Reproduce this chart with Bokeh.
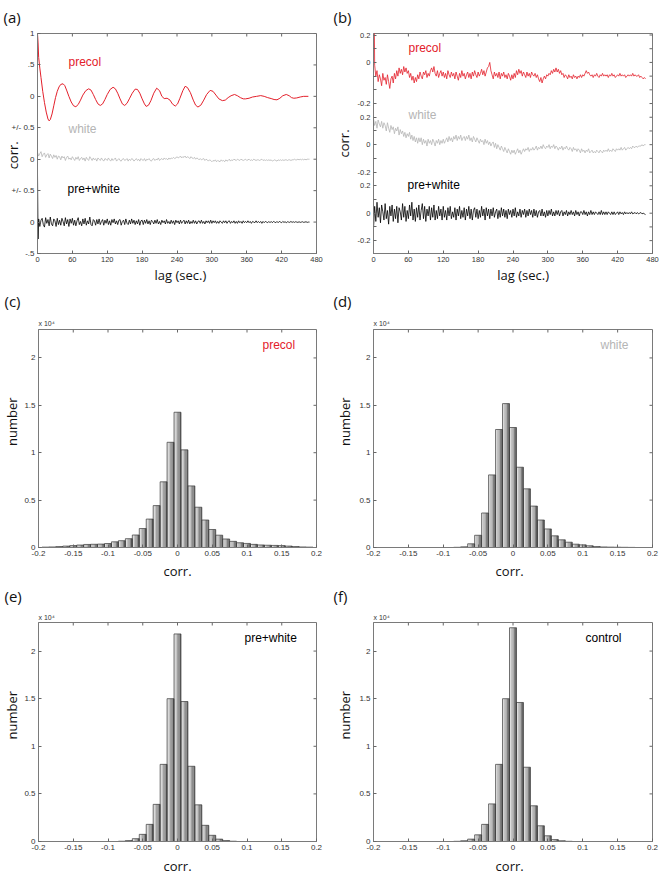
import math
from bokeh.plotting import figure
from bokeh.models import Label, FixedTicker, Title
from bokeh.layouts import column, row
from bokeh.embed import file_html
from bokeh.resources import INLINE

# ---------------- data: panel (a) autocorrelation traces ----------------
precol_a_lag = [0, 1, 2, 4, 6, 9, 12, 15, 18, 20, 22, 25, 28, 31, 34, 37, 40, 44, 47, 50,
                54, 58, 62, 66, 70, 74, 78, 83, 88, 92, 96, 100, 104, 108, 112, 116, 120, 125, 130, 134,
                138, 142, 146, 150, 154, 158, 163, 168, 172, 176, 180, 184, 187, 191, 195, 200, 205, 210, 214, 218,
                223, 228, 232, 237, 241, 245, 250, 254, 258, 263, 268, 272, 276, 281, 286, 291, 297, 302, 307, 312,
                318, 323, 328, 333, 339, 344, 349, 354, 358, 364, 370, 377, 384, 390, 396, 402, 407, 412, 417, 422,
                428, 433, 437, 441, 446, 452, 458, 462, 466]
precol_a_val = [1.0, 0.85, 0.62, 0.45, 0.3, 0.08, -0.1, -0.25, -0.36, -0.39, -0.37, -0.28, -0.15, -0.02, 0.08, 0.15, 0.19, 0.2, 0.17, 0.1,
                0.0, -0.09, -0.15, -0.165, -0.13, -0.06, 0.02, 0.09, 0.12, 0.1, 0.03, -0.05, -0.12, -0.145, -0.12, -0.05, 0.03, 0.11, 0.145, 0.12,
                0.05, -0.04, -0.12, -0.145, -0.11, -0.04, 0.05, 0.115, 0.11, 0.05, -0.04, -0.12, -0.16, -0.14, -0.07, 0.05, 0.13, 0.09, 0.0, -0.035,
                -0.03, -0.06, -0.12, -0.155, -0.12, -0.03, 0.09, 0.16, 0.14, 0.06, -0.06, -0.14, -0.17, -0.14, -0.06, 0.03, 0.095, 0.08, 0.02, -0.04,
                -0.068, -0.06, -0.02, 0.01, 0.03, 0.01, -0.02, -0.04, -0.04, -0.03, -0.01, 0.0, 0.012, 0.0, -0.02, -0.035, -0.05, -0.055, -0.03, 0.01,
                0.03, 0.01, -0.02, -0.03, -0.025, -0.01, 0.0, 0.0, 0.0]

lag2 = list(range(0, 469, 2))

white_a_val = [0.11, 0.05, 0.09, 0.12, 0.04, 0.08, 0.10, 0.03, 0.07, 0.09,
               0.02, 0.08, 0.05, 0.01, 0.07, 0.03, 0.06, 0.00, 0.05, 0.04,
               -0.01, 0.05, 0.02, 0.04, -0.02, 0.03, 0.05, 0.00, 0.02, -0.01,
               0.04, 0.01, -0.02, 0.03, 0.00, 0.04, -0.02, 0.01, 0.03, -0.01,
               0.02, -0.03, 0.03, 0.00, -0.02, 0.04, 0.01, -0.02, 0.02, -0.01,
               0.01, -0.03, 0.02, 0.00, -0.02, 0.02, -0.01, -0.03, 0.01, 0.00,
               -0.02, 0.02, -0.01, -0.03, 0.01, -0.02, 0.00, 0.02, -0.03, -0.01,
               0.01, -0.02, -0.03, 0.00, 0.01, -0.02, -0.01, 0.01, -0.03, 0.00,
               -0.02, 0.01, 0.00, -0.03, -0.01, 0.01, -0.02, 0.00, -0.03, 0.01,
               -0.01, -0.02, 0.01, -0.03, 0.00, -0.01, 0.01, -0.02, -0.03, 0.00,
               0.01, -0.02, 0.00, -0.01, 0.02, -0.02, 0.00, 0.01, -0.01, 0.02,
               0.00, 0.01, -0.01, 0.02, 0.00, 0.02, 0.01, 0.03, 0.01, 0.02,
               0.04, 0.02, 0.03, 0.05, 0.02, 0.04, 0.03, 0.05, 0.02, 0.04,
               0.03, 0.01, 0.04, 0.02, 0.01, 0.03, 0.00, 0.02, 0.01, -0.01,
               0.01, -0.01, 0.00, 0.01, -0.02, 0.00, -0.01, -0.03, -0.01, -0.02,
               -0.04, -0.02, -0.03, -0.01, -0.04, -0.02, -0.03, -0.04, -0.01, -0.03,
               -0.02, -0.04, -0.01, -0.03, -0.02, 0.00, -0.03, -0.01, -0.02, 0.00,
               -0.01, -0.02, 0.00, -0.01, -0.02, 0.00, -0.01, -0.02, -0.01, 0.00,
               -0.02, -0.01, 0.00, -0.02, -0.01, -0.02, 0.00, -0.01, -0.02, -0.01,
               -0.01, -0.02, -0.01, 0.00, -0.02, -0.01, -0.02, -0.01, -0.02, -0.01,
               -0.02, -0.01, -0.03, -0.02, -0.01, -0.02, -0.03, -0.01, -0.02, -0.01,
               -0.02, -0.01, -0.02, -0.01, -0.01, -0.02, -0.01, -0.01, -0.02, -0.01,
               -0.01, 0.00, -0.01, -0.01, 0.00, -0.01, 0.00, -0.01, 0.00, -0.01,
               0.00, -0.01, 0.00, 0.00, 0.00]

pw_a_lag = [0, 1] + list(range(2, 469, 2))
pw_a_val = [0.76, -0.27,
            0.05, -0.07, 0.03, 0.06, -0.04, -0.08, 0.07, -0.02, 0.04, -0.06,
            0.08, -0.03, -0.06, 0.05, 0.02, -0.07, 0.06, -0.04, 0.03, -0.05,
            0.06, 0.01, -0.06, 0.07, -0.03, 0.04, -0.07, 0.05, -0.02, 0.06,
            -0.05, 0.03, -0.06, 0.02, 0.07, -0.04, 0.01, -0.06, 0.05, -0.03,
            0.06, -0.05, 0.02, -0.03, 0.08, -0.04, -0.06, 0.04, 0.02, -0.05,
            0.04, -0.03, 0.05, -0.04, 0.01, 0.04, -0.05, 0.03, -0.02, 0.05,
            -0.04, 0.02, -0.05, 0.04, -0.01, 0.05, -0.03, 0.02, -0.04, 0.03,
            0.04, -0.05, 0.01, 0.03, -0.04, 0.05, -0.02, -0.04, 0.03, -0.03,
            0.05, -0.02, 0.03, -0.04, 0.02, -0.03, 0.04, -0.05, 0.02, 0.03,
            -0.04, 0.03, -0.02, 0.04, -0.03, 0.02, -0.04, 0.03, 0.01, -0.03,
            0.03, -0.02, 0.04, -0.03, 0.01, -0.04, 0.03, -0.01, 0.02, -0.03,
            0.04, -0.02, 0.01, -0.03, 0.03, -0.02, 0.02, -0.04, 0.03, -0.01,
            0.02, -0.03, 0.03, -0.02, 0.01, 0.03, -0.03, 0.02, -0.02, 0.03,
            -0.03, 0.01, -0.02, 0.03, -0.02, 0.02, -0.03, 0.01, 0.02, -0.02,
            0.03, -0.02, 0.01, -0.03, 0.02, -0.01, 0.02, -0.02, 0.03, -0.02,
            0.02, -0.01, 0.02, -0.02, 0.01, -0.02, 0.02, 0.00, -0.02, 0.02,
            -0.01, 0.02, -0.02, 0.01, 0.02, -0.02, 0.01, -0.01, 0.02, -0.02,
            0.01, -0.02, 0.02, -0.01, 0.01, -0.02, 0.02, -0.01, 0.01, -0.01,
            0.02, -0.01, 0.01, -0.02, 0.01, 0.00, -0.01, 0.02, -0.01, 0.01,
            -0.01, 0.01, -0.02, 0.01, -0.01, 0.01, 0.00, -0.01, 0.01, -0.01,
            0.01, -0.01, 0.01, 0.00, -0.01, 0.01, -0.01, 0.01, 0.00, -0.01,
            0.01, -0.005, 0.005, -0.01, 0.005, 0.0, -0.005, 0.01, -0.005, 0.005,
            -0.005, 0.005, 0.0, -0.005, 0.005, -0.005, 0.0, 0.005, -0.005, 0.0,
            0.005, -0.005, 0.0, 0.0]

# ---------------- data: panel (b) ----------------
pc_b_val = [1.0, -0.02, -0.10, -0.06, -0.14, -0.09, -0.12, -0.17, -0.08, -0.13,
            -0.11, -0.16, -0.09, -0.14, -0.19, -0.12, -0.10, -0.15, -0.08, -0.12,
            -0.06, -0.10, -0.04, -0.08, -0.05, -0.09, -0.03, -0.07, -0.04, -0.08,
            -0.06, -0.11, -0.08, -0.13, -0.10, -0.15, -0.11, -0.14, -0.09, -0.12,
            -0.07, -0.10, -0.12, -0.07, -0.09, -0.06, -0.11, -0.08, -0.10, -0.06,
            -0.04, -0.07, -0.03, -0.08, -0.10, -0.06, -0.11, -0.08, -0.06, -0.10,
            -0.07, -0.11, -0.08, -0.12, -0.06, -0.09, -0.11, -0.07, -0.10, -0.08,
            -0.12, -0.07, -0.10, -0.13, -0.08, -0.11, -0.06, -0.10, -0.08, -0.12,
            -0.09, -0.07, -0.11, -0.08, -0.12, -0.07, -0.10, -0.06, -0.09, -0.11,
            -0.07, -0.10, -0.08, -0.05, -0.09, -0.06, -0.10, -0.07, -0.04, -0.03,
            0.00, -0.06, -0.09, -0.12, -0.07, -0.10, -0.08, -0.11, -0.07, -0.12,
            -0.08, -0.10, -0.07, -0.11, -0.09, -0.12, -0.08, -0.10, -0.13, -0.09,
            -0.12, -0.08, -0.11, -0.06, -0.09, -0.05, -0.08, -0.06, -0.10, -0.07,
            -0.09, -0.11, -0.07, -0.10, -0.08, -0.11, -0.07, -0.09, -0.10, -0.08,
            -0.11, -0.09, -0.12, -0.14, -0.11, -0.15, -0.12, -0.10, -0.12, -0.09,
            -0.10, -0.08, -0.09, -0.06, -0.08, -0.05, -0.07, -0.04, -0.07, -0.05,
            -0.08, -0.06, -0.09, -0.08, -0.11, -0.09, -0.10, -0.12, -0.09, -0.11,
            -0.10, -0.12, -0.09, -0.11, -0.10, -0.12, -0.10, -0.11, -0.09, -0.11,
            -0.09, -0.10, -0.08, -0.06, -0.08, -0.07, -0.09, -0.10, -0.09, -0.11,
            -0.09, -0.10, -0.08, -0.10, -0.11, -0.09, -0.10, -0.08, -0.10, -0.09,
            -0.10, -0.09, -0.11, -0.09, -0.10, -0.08, -0.10, -0.09, -0.11, -0.10,
            -0.09, -0.10, -0.08, -0.10, -0.09, -0.10, -0.09, -0.11, -0.10, -0.09,
            -0.10, -0.09, -0.10, -0.08, -0.10, -0.09, -0.10, -0.10, -0.09, -0.11,
            -0.10, -0.11, -0.12, -0.11, -0.12]

white_b_val = [0.19, 0.14, 0.17, 0.12, 0.18, 0.15, 0.13, 0.17, 0.12, 0.16,
               0.14, 0.10, 0.16, 0.12, 0.09, 0.14, 0.11, 0.13, 0.08, 0.12,
               0.10, 0.13, 0.07, 0.11, 0.08, 0.10, 0.06, 0.09, 0.05, 0.08,
               0.06, 0.09, 0.04, 0.07, 0.03, 0.06, 0.02, 0.05, 0.01, 0.05,
               0.02, 0.05, 0.00, 0.04, 0.01, 0.03, -0.01, 0.04, 0.01, 0.03,
               0.00, 0.04, 0.02, -0.01, 0.03, 0.01, 0.04, 0.00, 0.03, 0.01,
               0.04, 0.01, 0.03, 0.05, 0.02, 0.06, 0.03, 0.05, 0.02, 0.06,
               0.04, 0.07, 0.03, 0.06, 0.04, 0.07, 0.03, 0.05, 0.06, 0.03,
               0.06, 0.04, 0.07, 0.03, 0.05, 0.02, 0.06, 0.04, 0.02, 0.05,
               0.03, 0.01, 0.04, 0.02, 0.03, 0.00, 0.04, 0.01, 0.03, 0.00,
               0.02, -0.01, 0.01, 0.02, -0.02, 0.01, -0.03, 0.00, -0.02, -0.04,
               -0.01, -0.03, -0.05, -0.02, -0.04, -0.06, -0.03, -0.05, -0.07, -0.04,
               -0.06, -0.04, -0.07, -0.05, -0.03, -0.06, -0.04, -0.07, -0.05, -0.03,
               -0.05, -0.03, -0.04, -0.02, -0.05, -0.03, -0.04, -0.02, -0.04, -0.03,
               -0.01, -0.04, -0.02, -0.03, -0.01, -0.03, 0.00, -0.02, -0.03, -0.01,
               -0.02, 0.00, -0.03, -0.01, -0.02, 0.00, -0.03, -0.01, -0.02, -0.04,
               -0.02, -0.03, -0.01, -0.04, -0.02, -0.03, -0.01, -0.03, -0.04, -0.02,
               -0.03, -0.05, -0.02, -0.04, -0.03, -0.05, -0.03, -0.04, -0.06, -0.03,
               -0.05, -0.04, -0.06, -0.04, -0.05, -0.03, -0.06, -0.05, -0.04, -0.06,
               -0.05, -0.06, -0.04, -0.05, -0.06, -0.04, -0.05, -0.06, -0.04, -0.05,
               -0.04, -0.05, -0.03, -0.05, -0.04, -0.05, -0.03, -0.04, -0.05, -0.03,
               -0.04, -0.03, -0.04, -0.02, -0.04, -0.03, -0.02, -0.04, -0.03, -0.02,
               -0.03, -0.02, -0.03, -0.01, -0.02, -0.02, -0.01, -0.02, -0.01, -0.01,
               -0.01, 0.00, -0.01, 0.00, 0.00]

pw_b_val = [-0.11, 0.05, -0.06, 0.08, -0.03, 0.04, -0.07, 0.06, 0.01, -0.05,
            0.07, -0.04, 0.02, -0.08, 0.05, -0.02, 0.06, -0.06, 0.03, -0.04,
            0.05, -0.07, 0.04, 0.01, -0.05, 0.07, -0.03, 0.05, -0.06, 0.02,
            -0.04, 0.06, -0.02, 0.08, -0.05, 0.03, -0.06, 0.04, -0.03, 0.06,
            -0.05, 0.02, 0.07, -0.04, 0.05, -0.06, 0.03, -0.02, 0.05, -0.05,
            0.04, -0.03, 0.06, -0.05, 0.02, -0.04, 0.05, -0.02, 0.03, -0.05,
            0.05, -0.03, 0.02, -0.05, 0.04, -0.02, 0.05, -0.04, 0.01, -0.03,
            0.04, -0.05, 0.03, -0.02, 0.05, -0.04, 0.02, -0.03, 0.04, -0.05,
            0.03, -0.02, 0.05, -0.04, 0.03, -0.05, 0.02, 0.04, -0.03, 0.03,
            -0.04, 0.02, -0.03, 0.05, -0.02, 0.03, -0.05, 0.04, -0.02, 0.03,
            -0.04, 0.03, -0.02, 0.04, -0.03, 0.01, 0.03, -0.04, 0.02, -0.03,
            0.04, -0.02, 0.03, -0.03, 0.02, -0.04, 0.03, -0.01, 0.02, -0.03,
            0.03, -0.02, 0.04, -0.03, 0.01, -0.02, 0.03, -0.03, 0.02, -0.01,
            0.03, -0.03, 0.02, -0.02, 0.03, -0.01, 0.02, -0.03, 0.03, -0.02,
            0.02, -0.03, 0.01, 0.02, -0.02, 0.03, -0.02, 0.01, -0.03, 0.02,
            -0.02, 0.02, -0.01, 0.03, -0.02, 0.01, -0.02, 0.02, -0.01, 0.02,
            -0.02, 0.01, 0.02, -0.02, 0.01, -0.01, 0.02, -0.02, 0.01, -0.01,
            0.02, -0.01, 0.01, -0.02, 0.02, -0.01, 0.01, -0.02, 0.01, 0.01,
            -0.01, 0.02, -0.01, 0.01, -0.02, 0.01, -0.01, 0.02, -0.01, 0.01,
            -0.01, 0.01, 0.00, -0.01, 0.01, -0.01, 0.02, -0.01, 0.01, -0.01,
            0.01, -0.01, 0.01, 0.00, -0.01, 0.01, -0.01, 0.01, -0.01, 0.00,
            0.01, -0.01, 0.01, -0.005, 0.005, -0.01, 0.01, -0.005, 0.005, -0.005,
            0.005, -0.005, 0.01, -0.005, 0.0, 0.005, -0.005, 0.005, -0.005, 0.0,
            0.005, -0.005, 0.0, -0.005, -0.01]

# ---------------- data: histograms (c)-(f) ----------------
bin_centers = [-0.19, -0.18, -0.17, -0.16, -0.15, -0.14, -0.13, -0.12, -0.11, -0.10,
               -0.09, -0.08, -0.07, -0.06, -0.05, -0.04, -0.03, -0.02, -0.01, 0.0,
               0.01, 0.02, 0.03, 0.04, 0.05, 0.06, 0.07, 0.08, 0.09, 0.10,
               0.11, 0.12, 0.13, 0.14, 0.15, 0.16, 0.17, 0.18, 0.19]
BIN_WIDTH = 0.01
precol_counts = [40, 60, 100, 150, 200, 260, 320, 340, 360, 420,
                 600, 720, 930, 1320, 2000, 3000, 4420, 6930, 11100, 14270,
                 10300, 6500, 4250, 2900, 1900, 1300, 900, 650, 500, 430,
                 330, 270, 240, 220, 200, 150, 100, 60, 40]
white_counts = [0, 0, 0, 0, 0, 0, 0, 0, 0, 0,
                0, 20, 70, 390, 1290, 3640, 7660, 12450, 15180, 12660,
                8470, 6190, 4370, 2900, 1960, 1230, 810, 560, 350, 280,
                180, 100, 60, 40, 30, 20, 10, 0, 0]
prewhite_counts = [0, 0, 0, 0, 0, 0, 0, 0, 0, 0,
                   0, 30, 100, 300, 750, 1800, 3900, 8100, 15000, 21800,
                   14700, 7900, 3850, 1700, 650, 250, 100, 30, 0, 0,
                   0, 0, 0, 0, 0, 0, 0, 0, 0]
control_counts = [0, 0, 0, 0, 0, 0, 0, 0, 0, 0,
                  0, 20, 80, 250, 700, 1800, 3950, 8100, 15000, 22450,
                  14600, 7800, 3750, 1650, 600, 200, 80, 20, 0, 0,
                  0, 0, 0, 0, 0, 0, 0, 0, 0]

# ---------------- ticks ----------------
lag_ticks = [0, 60, 120, 180, 240, 300, 360, 420, 480]
a_yticks = [-0.5, 0, 0.5, 1, 1.5, 2, 2.5, 3]
a_ylabels = {-0.5: "-.5", 0: "0", 0.5: "+/- 0.5", 1: "0", 1.5: "+/- 0.5", 2: "0", 2.5: ".5", 3: "1"}
b_yticks = [-0.2, -0.1, 0, 0.1, 0.2, 0.3, 0.4, 0.5, 0.6, 0.7, 0.8, 0.9, 1.0, 1.1, 1.2, 1.3]
b_ylabels = {-0.2: "-0.2", -0.1: " ", 0: "0", 0.1: " ", 0.2: "0.2", 0.3: "-0.2", 0.4: " ", 0.5: "0",
             0.6: " ", 0.7: "0.2", 0.8: "-0.2", 0.9: " ", 1.0: " ", 1.1: "0", 1.2: " ", 1.3: "0.2"}
h_xticks = [-0.2, -0.15, -0.1, -0.05, 0, 0.05, 0.1, 0.15, 0.2]
h_xlabels = {-0.2: "-0.2", -0.15: "-0.15", -0.1: "-0.1", -0.05: "-0.05", 0: "0",
             0.05: "0.05", 0.1: "0.1", 0.15: "0.15", 0.2: "0.2"}
h_yticks = [0, 5000, 10000, 15000, 20000]
h_ylabels = {0: "0", 5000: "0.5", 10000: "1", 15000: "1.5", 20000: "2"}

# offsets of the stacked traces (display positions)
A_OFF = {"precol": 2.0, "white": 1.0, "pw": 0.0}
B_OFF = {"precol": 1.1, "white": 0.5, "pw": 0.0}

# ---------------- styling helpers ----------------
AX = "#7a7a7a"
TICKC = "#666666"
TF = "Liberation Sans"
OF = "Open Sans"
RED = "#e3202b"
GRAY = "#b5b5b5"
SHADES = ["#dedede", "#c2c2c2", "#a2a2a2", "#808080", "#5e5e5e"]
NB = "\u00a0"


def base_fig(w, h, bl, br, bt, bb, xr, yr):
    p = figure(width=w, height=h, x_range=xr, y_range=yr, output_backend="svg",
               toolbar_location=None, min_border_left=bl, min_border_right=br,
               min_border_top=bt, min_border_bottom=bb)
    p.xgrid.visible = False
    p.ygrid.visible = False
    p.outline_line_color = AX
    p.background_fill_color = "white"
    p.border_fill_color = "white"
    return p


def style_axis(ax, ticks, labels, size, title, standoff):
    ax.ticker = FixedTicker(ticks=ticks)
    if labels is not None:
        ax.major_label_overrides = labels
    ax.major_tick_in = 3
    ax.major_tick_out = 0
    ax.minor_tick_line_color = None
    ax.axis_line_color = AX
    ax.major_tick_line_color = TICKC
    ax.major_label_text_font = TF
    ax.major_label_text_font_size = size
    ax.major_label_text_color = "#333333"
    ax.major_label_standoff = 3
    ax.axis_label = title
    ax.axis_label_text_font = OF
    ax.axis_label_text_font_size = "13px"
    ax.axis_label_text_font_style = "normal"
    ax.axis_label_text_color = "#111111"
    ax.axis_label_standoff = standoff


def mirror(p, xticks, yticks, xr, yr):
    # inward tick marks on the top and right edges of the box
    p.ray(x=xticks, y=[yr[1]] * len(xticks), length=3, length_units="screen",
          angle=-math.pi / 2, line_color=TICKC, line_width=1)
    p.ray(x=[xr[1]] * len(yticks), y=yticks, length=3, length_units="screen",
          angle=math.pi, line_color=TICKC, line_width=1)


def letter(p, text, offset, standoff):
    p.title.text = text
    p.title.text_font = OF
    p.title.text_font_size = "15px"
    p.title.text_font_style = "normal"
    p.title.text_color = "#111111"
    p.title.align = "left"
    p.title.offset = offset
    p.title.vertical_align = "top"
    p.title.standoff = standoff


def put(p, fl, fb, X, Y, text, size, color="#000000"):
    # X, Y: page coordinates; fl, fb: page coordinates of the frame's left / bottom edge
    p.add_layout(Label(x=X - fl, y=fb - Y, x_units="screen", y_units="screen",
                       text=text, text_font=TF, text_font_size=f"{size}px",
                       text_color=color))


def draw_hist(p, counts):
    n = len(SHADES)
    for k, col in enumerate(SHADES):
        xs = [c - BIN_WIDTH / 2 + BIN_WIDTH * (k + 0.5) / n for c in bin_centers]
        p.vbar(x=xs, width=BIN_WIDTH / n, top=counts, bottom=0,
               fill_color=col, line_color=None)
    p.vbar(x=bin_centers, width=BIN_WIDTH, top=counts, bottom=0,
           fill_color=None, line_color="#3a3a3a", line_width=0.7)


# ---------------- panel (a) ----------------
XR, YA = (0, 480), (-0.5, 3.0)
pa = base_fig(330, 286, 37, 14, 33, 31, XR, YA)
style_axis(pa.xaxis[0], lag_ticks, None, "7.5px", NB * 2 + "lag (sec.)", 1)
style_axis(pa.yaxis[0], a_yticks, a_ylabels, "8px", "corr." + NB * 7, -13)
mirror(pa, lag_ticks, a_yticks, XR, YA)
letter(pa, "(a)", -34, 10)
pa.line(lag2, [v + A_OFF["white"] for v in white_a_val], line_color=GRAY, line_width=0.8)
pa.line(pw_a_lag, [v + A_OFF["pw"] for v in pw_a_val], line_color="#000000", line_width=0.8)
pa.line(precol_a_lag, [v + A_OFF["precol"] for v in precol_a_val], line_color=RED, line_width=1.0)
put(pa, 37, 255, 68, 70, "precol", 12, RED)
put(pa, 37, 255, 68, 137, "white", 12, GRAY)
put(pa, 37, 255, 67, 197, "pre+white", 12, "#000000")

# ---------------- panel (b) ----------------
YB = (-0.294, 1.311)
pb = base_fig(331, 286, 43, 9, 33, 31, XR, YB)
style_axis(pb.xaxis[0], lag_ticks, None, "7.5px", NB * 6 + "lag (sec.)", 1)
style_axis(pb.yaxis[0], b_yticks, b_ylabels, "7.5px", "corr.", 2)
mirror(pb, lag_ticks, b_yticks, XR, YB)
letter(pb, "(b)", -40, 10)
pb.line(lag2, [v + B_OFF["white"] for v in white_b_val], line_color=GRAY, line_width=0.8)
pb.line(lag2, [v + B_OFF["pw"] for v in pw_b_val], line_color="#000000", line_width=0.8)
pb.line(lag2, [v + B_OFF["precol"] for v in pc_b_val], line_color=RED, line_width=0.8)
put(pb, 373, 254, 408, 55, "precol", 12, RED)
put(pb, 373, 254, 408, 122, "white", 12, GRAY)
put(pb, 373, 254, 407, 192, "pre+white", 12, "#000000")

# ---------------- histogram panels ----------------
XH, YH = (-0.2, 0.2), (0, 23000)


def hist_panel(col, row_i, counts, let, name, name_color, name_x):
    if row_i == 2:
        h, bt, bb, ftop, fbot = 296, 43, 34, 329, 548
        exp_st, let_st, xl_st = 5, 6, 3
    else:
        h, bt, bb, ftop, fbot = 295, 40, 35, 622, 842
        exp_st, let_st, xl_st = 4, 4, 4
    if col == 1:
        p = base_fig(330, h, 37, 14, bt, bb, XH, YH)
        fl, off, ys, xl = 37, -34, 0, "corr."
    else:
        p = base_fig(331, h, 43, 9, bt, bb, XH, YH)
        fl, off, ys, xl = 373, -40, 2, "corr." + NB * 2
    style_axis(p.xaxis[0], h_xticks, h_xlabels, "8px", xl, xl_st)
    style_axis(p.yaxis[0], h_yticks, h_ylabels, "8px", NB * 10 + "number", ys)
    mirror(p, h_xticks, h_yticks, XH, YH)
    letter(p, let, off, let_st)
    p.add_layout(Title(text="x 10\u2074", text_font=TF, text_font_size="7px",
                       text_font_style="normal", text_color="#333333",
                       align="left", offset=0, standoff=exp_st), "above")
    draw_hist(p, counts)
    put(p, fl, fbot, name_x, ftop + 23, name, 12, name_color)
    return p


pc = hist_panel(1, 2, precol_counts, "(c)", "precol", RED, 261)
pd_ = hist_panel(2, 2, white_counts, "(d)", "white", GRAY, 600)
pe = hist_panel(1, 3, prewhite_counts, "(e)", "pre+white", "#000000", 243)
pf = hist_panel(2, 3, control_counts, "(f)", "control", "#000000", 585)

layout = column(row(pa, pb), row(pc, pd_), row(pe, pf))
open("out.html", "w").write(file_html(layout, INLINE))
